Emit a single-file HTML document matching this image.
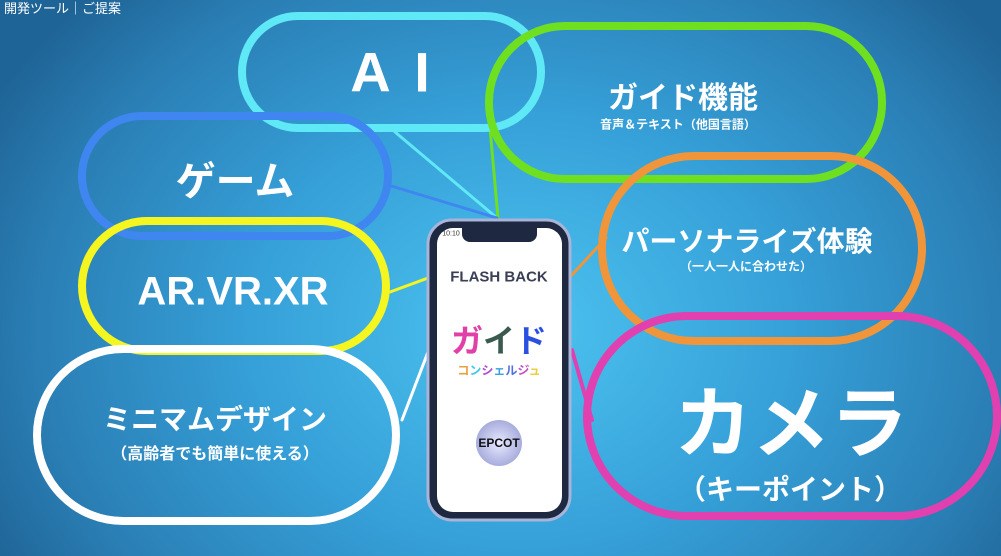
<!DOCTYPE html>
<html><head><meta charset="utf-8"><style>
body{margin:0;width:1001px;height:556px;overflow:hidden;background:radial-gradient(ellipse 600px 480px at 520px 330px,#4cc3f0 0%,#36a0d8 45%,#2a7fb5 80%,#1f6496 100%);font-family:"Liberation Sans","Noto Sans CJK JP",sans-serif;position:relative}
svg{position:absolute;left:0;top:0}
.t{position:absolute;color:#fff;font-weight:bold;text-align:center;white-space:nowrap;transform:translate(-50%,-50%)}
</style></head><body>
<svg width="1001" height="556">
<g fill="none" stroke-linecap="round">
<line x1="395" y1="132" x2="497" y2="218" stroke="#5fe8f5" stroke-width="3"/>
<line x1="490" y1="128" x2="498" y2="218" stroke="#6fe020" stroke-width="3"/>
<line x1="388" y1="185" x2="497" y2="218" stroke="#3f86f0" stroke-width="3"/>
<line x1="390" y1="292" x2="428" y2="278" stroke="#f5f520" stroke-width="3"/>
<line x1="402" y1="420" x2="428" y2="352" stroke="#fff" stroke-width="3"/>
<line x1="570" y1="277" x2="606" y2="238" stroke="#f0953a" stroke-width="3"/>
<line x1="572" y1="350" x2="592" y2="420" stroke="#e040b0" stroke-width="4"/>
<rect x="242" y="16" width="299" height="112" rx="56" stroke="#5fe8f5" stroke-width="8"/>
<rect x="489" y="26" width="393" height="153" rx="76" stroke="#6fe020" stroke-width="8"/>
<rect x="82" y="116" width="306" height="120" rx="60" stroke="#3f86f0" stroke-width="8"/>
<rect x="82" y="221" width="304" height="130" rx="65" stroke="#f5f520" stroke-width="8"/>
<rect x="602" y="156" width="320" height="185" rx="92" stroke="#f0953a" stroke-width="8"/>
<rect x="37" y="349" width="359" height="172" rx="86" stroke="#fff" stroke-width="8"/>
<rect x="587" y="316" width="410" height="200" rx="100" stroke="#e040b0" stroke-width="8"/>
</g>
<rect x="428" y="220" width="142" height="300" rx="24" fill="#1e2840" stroke="#a8b4d8" stroke-width="3"/>
<rect x="437" y="228" width="125" height="284" rx="16" fill="#fff"/>
<path d="M462 228 h75 v6 a8 8 0 0 1 -8 8 h-59 a8 8 0 0 1 -8 -8z" fill="#1e2840"/>
<defs><radialGradient id="g"><stop offset="0" stop-color="#e8eaff"/><stop offset="1" stop-color="#a8acdc"/></radialGradient></defs>
<circle cx="499" cy="443" r="23" fill="url(#g)"/>
</svg>
<div style="position:absolute;left:4px;top:-2px;font-size:13px;color:#fff;white-space:nowrap">開発ツール｜ご提案</div>
<div class="t" style="left:392px;top:72px;font-size:56px;letter-spacing:4px">A&nbsp;I</div>
<div class="t" style="left:683px;top:95px;font-size:30px">ガイド機能</div>
<div class="t" style="left:678px;top:124px;font-size:12px">音声＆テキスト（他国言語）</div>
<div class="t" style="left:235px;top:178px;font-size:40px">ゲーム</div>
<div class="t" style="left:233px;top:292px;font-size:40px">AR.VR.XR</div>
<div class="t" style="left:747px;top:240px;font-size:28px">パーソナライズ体験</div>
<div class="t" style="left:746px;top:266px;font-size:12px">（一人一人に合わせた）</div>
<div class="t" style="left:215px;top:418px;font-size:28px">ミニマムデザイン</div>
<div class="t" style="left:215px;top:452px;font-size:16px">（高齢者でも簡単に使える）</div>
<div class="t" style="left:791px;top:418px;font-size:78px">カメラ</div>
<div class="t" style="left:790px;top:488px;font-size:28px">（キーポイント）</div>
<div class="t" style="left:451px;top:234px;font-size:7px;color:#333;font-weight:normal">10:10</div>
<div class="t" style="left:499px;top:277px;font-size:15px;color:#3a3f55">FLASH BACK</div>
<div class="t" style="left:499px;top:339px;font-size:32px"><span style="color:#e040a8">ガ</span><span style="color:#3a5a50">イ</span><span style="color:#2a50e0">ド</span></div>
<div class="t" style="left:499px;top:370px;font-size:12px"><span style="color:#e8a040">コ</span><span style="color:#40c8e8">ン</span><span style="color:#b050d0">シ</span><span style="color:#3aa0e0">ェ</span><span style="color:#5070e0">ル</span><span style="color:#c050c0">ジ</span><span style="color:#e8d040">ュ</span></div>
<div class="t" style="left:499px;top:443px;font-size:12px;color:#111">EPCOT</div>
</body></html>
